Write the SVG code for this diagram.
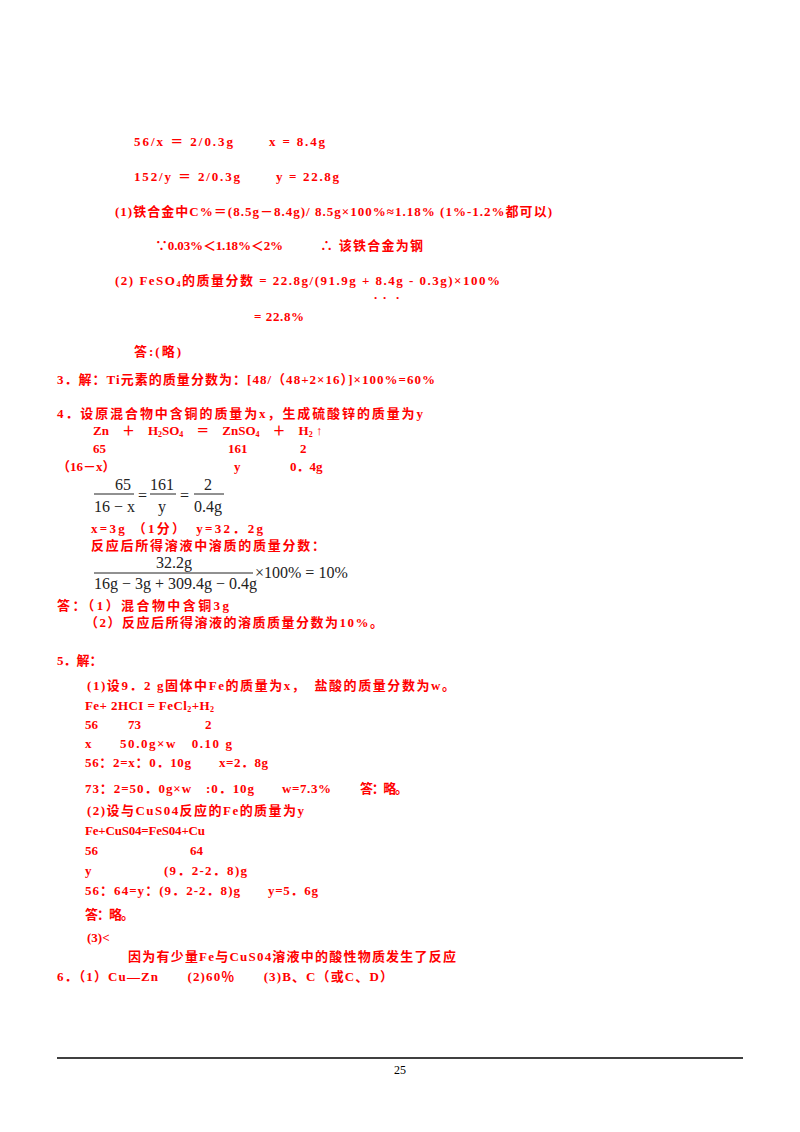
<svg xmlns="http://www.w3.org/2000/svg" width="800" height="1132" viewBox="0 0 800 1132">
<style>
.r{fill:#f00;font-family:"Liberation Serif","Noto Sans CJK SC",serif;font-size:13px;font-weight:bold}
.m{fill:#222;font-family:"Liberation Serif",serif;font-size:16px}
.s{font-size:8px}
</style>
<rect width="800" height="1132" fill="#fff"/>
<g id="text">
<text class="r" x="134" y="146" textLength="99">56/x ＝ 2/0.3g</text><text class="r" x="269" y="146" textLength="56">x = 8.4g</text>
<text class="r" x="134" y="181" textLength="106">152/y ＝ 2/0.3g</text><text class="r" x="276" y="181" textLength="63">y = 22.8g</text>
<text class="r" x="115" y="216" textLength="437">(1)铁合金中C%＝(8.5g－8.4g)/ 8.5g×100%≈1.18% (1%-1.2%都可以)</text>
<text class="r" x="155" y="250" textLength="128">∵0.03%＜1.18%＜2%</text><text class="r" x="320" y="250" textLength="103">∴ 该铁合金为钢</text>
<text class="r" x="115" y="285" textLength="385">(2) FeSO<tspan class="s" dy="2">4</tspan><tspan dy="-2">的质量分数 = 22.8g/(91.9g + 8.4g - 0.3g)×100%</tspan></text>
<text class="r" x="374" y="299" font-size="8">.</text><text class="r" x="383" y="299" font-size="8">.</text><text class="r" x="396" y="299" font-size="8">.</text>
<text class="r" x="254" y="321" textLength="50">= 22.8%</text>
<text class="r" x="134" y="356" textLength="47">答:(略)</text>
<text class="r" x="57" y="384" textLength="378">3．解：Ti元素的质量分数为：[48/（48+2×16）]×100%=60%</text>
<text class="r" x="57" y="418" textLength="366">4．设原混合物中含铜的质量为x，生成硫酸锌的质量为y</text>
<text class="r" x="93" y="435">Zn　＋　H<tspan class="s" dy="2">2</tspan><tspan dy="-2">SO</tspan><tspan class="s" dy="2">4</tspan><tspan dy="-2">　＝　ZnSO</tspan><tspan class="s" dy="2">4</tspan><tspan dy="-2">　＋　H</tspan><tspan class="s" dy="2">2</tspan><tspan dy="-2"> ↑</tspan></text>
<text class="r" x="93" y="453">65</text><text class="r" x="228" y="453">161</text><text class="r" x="300" y="453">2</text>
<text class="r" x="57" y="471">（16－x）</text><text class="r" x="234" y="471">y</text><text class="r" x="290" y="471">0．4g</text>
<text class="m" x="115" y="490">65</text><text class="m" x="94" y="512">16 − x</text>
<text class="m" x="150" y="490">161</text><text class="m" x="158" y="512">y</text>
<text class="m" x="204" y="490">2</text><text class="m" x="194" y="512">0.4g</text>
<text class="m" x="138" y="501">=</text><text class="m" x="180" y="501">=</text>
<text class="r" x="91" y="533" textLength="172">x=3g （1分）　y=32．2g</text>
<text class="r" x="91" y="550" textLength="234">反应后所得溶液中溶质的质量分数：</text>
<text class="m" x="156" y="568">32.2g</text><text class="m" x="94" y="589">16g − 3g + 309.4g − 0.4g</text>
<text class="m" x="255" y="578">×100% = 10%</text>
<text class="r" x="57" y="610" textLength="172">答：（1）混合物中含铜3g</text>
<text class="r" x="85" y="627" textLength="298">（2）反应后所得溶液的溶质质量分数为10%。</text>
<text class="r" x="57" y="665">5．解：</text>
<text class="r" x="87" y="690" textLength="368">(1)设9．2 g固体中Fe的质量为x，　盐酸的质量分数为w。</text>
<text class="r" x="85" y="710" textLength="129">Fe+ 2HCI = FeCl<tspan class="s" dy="2">2</tspan><tspan dy="-2">+H</tspan><tspan class="s" dy="2">2</tspan></text>
<text class="r" x="85" y="729">56</text><text class="r" x="128" y="729">73</text><text class="r" x="205" y="729">2</text>
<text class="r" x="85" y="748">x</text><text class="r" x="120" y="748" textLength="112">50.0g×w　0.10 g</text>
<text class="r" x="85" y="767" textLength="106">56：2=x：0．10g</text><text class="r" x="219" y="767" textLength="49">x=2．8g</text>
<text class="r" x="85" y="793" textLength="169">73：2=50．0g×w　:0．10g</text><text class="r" x="282" y="793" textLength="49">w=7.3%</text><text class="r" x="360" y="793" textLength="48">答：略。</text>
<text class="r" x="87" y="815" textLength="217">(2)设与CuS04反应的Fe的质量为y</text>
<text class="r" x="85" y="835" textLength="120">Fe+CuS04=FeS04+Cu</text>
<text class="r" x="85" y="855">56</text><text class="r" x="190" y="855">64</text>
<text class="r" x="85" y="875">y</text><text class="r" x="164" y="875" textLength="83">(9．2-2．8)g</text>
<text class="r" x="85" y="895" textLength="155">56：64=y：(9．2-2．8)g</text><text class="r" x="268" y="895" textLength="50">y=5．6g</text>
<text class="r" x="85" y="919" textLength="49">答：略。</text>
<text class="r" x="87" y="942">(3)&lt;</text>
<text class="r" x="128" y="961" textLength="328">因为有少量Fe与CuS04溶液中的酸性物质发生了反应</text>
<text class="r" x="57" y="981" textLength="336">6．（1）Cu—Zn　　(2)60％　　(3)B、C（或C、D）</text>
</g>
<g id="lines">
<line x1="94" y1="494" x2="134" y2="494" stroke="#222"/>
<line x1="150" y1="494" x2="176" y2="494" stroke="#222"/>
<line x1="194" y1="494" x2="224" y2="494" stroke="#222"/>
<line x1="94" y1="573" x2="253" y2="573" stroke="#222"/>
<line x1="57" y1="1058" x2="743" y2="1058" stroke="#000" stroke-width="1.5"/>
</g>
<text x="400" y="1074" text-anchor="middle" font-family="Liberation Serif,serif" font-size="12">25</text>
</svg>
